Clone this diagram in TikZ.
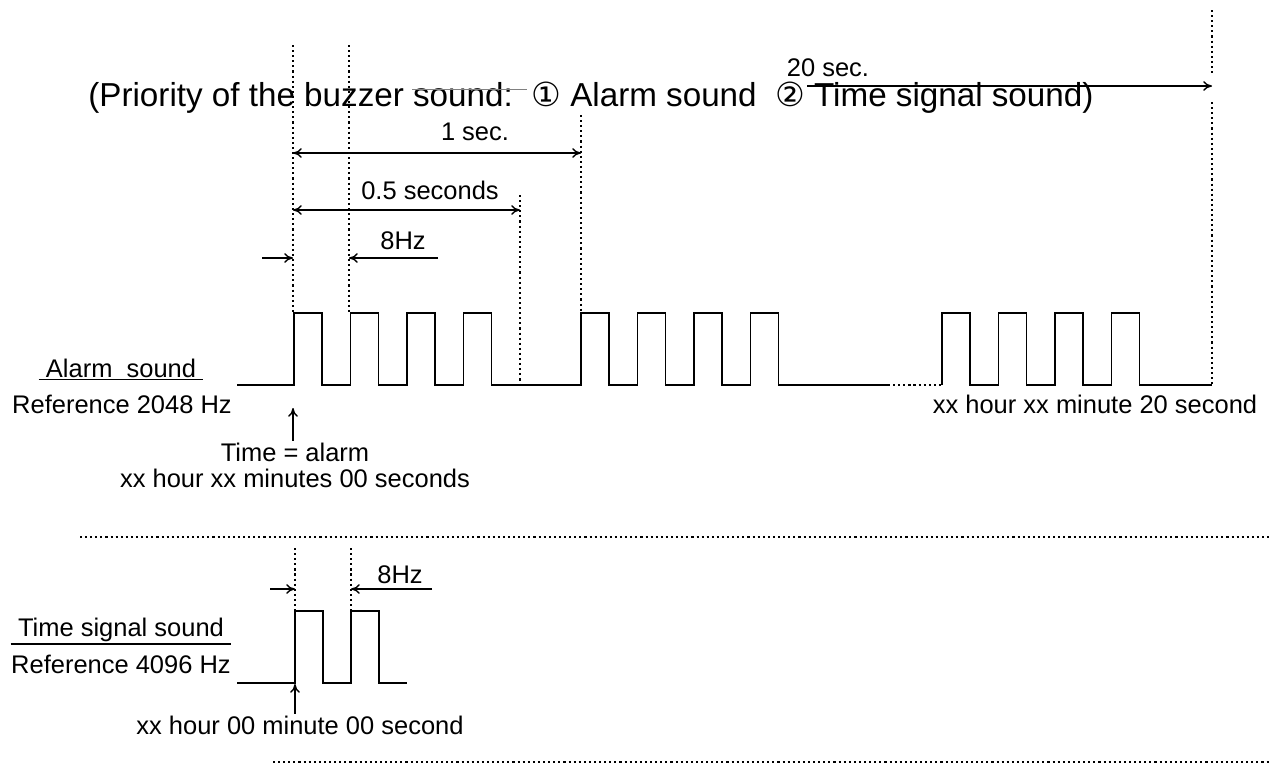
\documentclass[tikz,border=0pt]{standalone}
\usepackage{fontspec}
\setmainfont{Liberation Sans}
\newfontfamily\circfont{DejaVu Sans}
\usetikzlibrary{arrows.meta, positioning}

\begin{document}
\begin{tikzpicture}[x=0.02cm, y=-0.02cm,
      wave/.style={line width=1.1pt, line join=miter},
      guide/.style={line width=0.9pt, dash pattern=on 1.2pt off 1.7pt},
      dim/.style={line width=0.8pt, -{To[length=5pt,width=5.5pt]}},
      dimboth/.style={line width=0.8pt, {To[length=5pt,width=5.5pt]}-{To[length=5pt,width=5.5pt]}},
      lbl/.style={font=\fontsize{14.5}{16}\selectfont, inner sep=1pt}]
      \useasboundingbox (0,0) rectangle (1270,775);

      \node[font=\fontsize{18.9}{20}\selectfont, anchor=base west, inner sep=0pt] (title) at (88,106)
        {(Priority of the buzzer sound:\ \ {\circfont ①} Alarm sound\ \ {\circfont ②} Time signal sound)};
      \draw[line width=0.5pt, gray] (412,89) -- (527,89);

      % Guide lines
      \draw[guide] (293,45) -- (293,313);
      \draw[guide] (349,45) -- (349,313);
      \draw[guide] (520,195) -- (520,385);
      \draw[guide] (581,115) -- (581,313);
      \draw[guide] (1212,10) -- (1212,76);
      \draw[guide] (1212,102) -- (1212,385);
      \draw[guide] (295,548) -- (295,611);
      \draw[guide] (351,548) -- (351,611);
      \draw[guide] (80,537) -- (1270,537);
      \draw[guide] (273,762) -- (1270,762);
      \draw[guide] (888,385) -- (942,385);

      % Alarm sound
      \draw[wave] (237,385) foreach \r in {294,350.5,407,463.5} {
          -- (\r,385) -- (\r,313) -- ({\r+28},313) -- ({\r+28},385)} -- (520,385);
      \draw[wave] (520,385) foreach \r in {581,637.5,694,750.5} {
          -- (\r,385) -- (\r,313) -- ({\r+28},313) -- ({\r+28},385)} -- (888,385);
      \draw[wave] (942,385) foreach \r in {942,998.5,1055,1111.5} {
          -- (\r,385) -- (\r,313) -- ({\r+28},313) -- ({\r+28},385)} -- (1212,385);

      \node[lbl] (alname) at (121,368) {Alarm\ \ sound};
      \draw[line width=0.8pt] ([xshift=-3pt]alname.south west) -- ([xshift=3pt]alname.south east);
      \node[lbl] (alref) at (122,404) {Reference 2048 Hz};
      \node[lbl] (alstart) at (295,452) {Time = alarm};
      \node[lbl, below=2pt of alstart] (alstamp) {xx hour xx minutes 00 seconds};
      \node[lbl] (alend) at (1095,404) {xx hour xx minute 20 second};
      \coordinate (alrise) at (293,408);
      \draw[dim] (alstart.north -| alrise) -- (alrise);

      % Time signal sound
      \draw[wave] (237,683) foreach \r in {295,351} {
          -- (\r,683) -- (\r,611) -- ({\r+28},611) -- ({\r+28},683)} -- (407,683);

      \node[lbl] (tsname) at (121,630) {Time signal sound};
      \draw[line width=0.8pt] ([xshift=-3pt]tsname.south west) -- ([xshift=3pt]tsname.south east);
      \node[lbl] (tsref) at (121,664) {Reference 4096 Hz};
      \node[lbl] (tsstamp) at (300,725) {xx hour 00 minute 00 second};
      \coordinate (tsrise) at (295,684);
      \draw[dim] (tsstamp.north -| tsrise) -- (tsrise);

      % Dimensions
      \node[lbl] (onesec) at (475,132) {1 sec.};
      \coordinate (os1) at (293,153);
      \coordinate (os2) at (581,153);
      \draw[dimboth] (os1) -- (os2);

      \node[lbl] (halfsec) at (430,190) {0.5 seconds};
      \coordinate (hs1) at (293,210);
      \coordinate (hs2) at (520,210);
      \draw[dimboth] (hs1) -- (hs2);

      \node[lbl] (twentysec) at (828,68) {20 sec.};
      \coordinate (ts1) at (807,86);
      \coordinate (ts2) at (1212,86);
      \draw[dim] (ts1) -- (ts2);

      \node[lbl] (alfreq) at (403,241) {8Hz};
      \coordinate (af1) at (262,258);
      \coordinate (af2) at (293,258);
      \coordinate (af3) at (438,258);
      \coordinate (af4) at (349,258);
      \draw[dim] (af1) -- (af2);
      \draw[dim] (af3) -- (af4);

      \node[lbl] (tsfreq) at (400,575) {8Hz};
      \coordinate (tf1) at (270,589);
      \coordinate (tf2) at (295,589);
      \coordinate (tf3) at (432,589);
      \coordinate (tf4) at (351,589);
      \draw[dim] (tf1) -- (tf2);
      \draw[dim] (tf3) -- (tf4);
\end{tikzpicture}
\end{document}
